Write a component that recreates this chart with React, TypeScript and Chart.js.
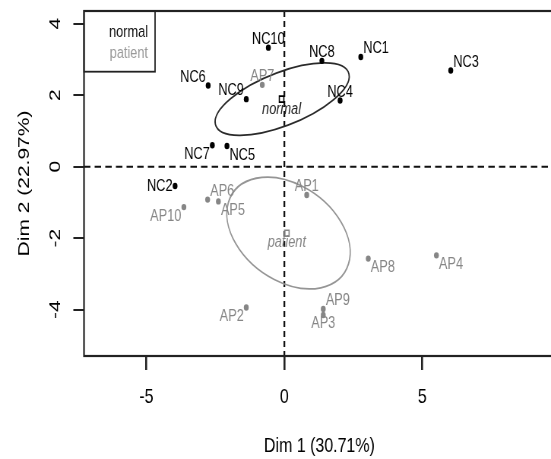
import React, { useEffect, useRef } from 'react';
import { Chart, registerables } from 'chart.js';

Chart.register(...registerables);

// ---------------- data ----------------
const groupNames = ['normal', 'patient'];

const normalLabels = ['NC1', 'NC2', 'NC3', 'NC4', 'NC5', 'NC6', 'NC7', 'NC8', 'NC9', 'NC10'];
const normalDim1 = [2.77, -3.96, 6.03, 2.02, -2.08, -2.76, -2.61, 1.36, -1.38, -0.58];
const normalDim2 = [3.07, -0.54, 2.69, 1.85, 0.58, 2.27, 0.6, 2.96, 1.89, 3.33];
const normalLabelPos = ['tr', 'l', 'tr', 't', 'br', 'tl', 'bl', 't', 'tl', 't'];

const patientLabels = ['AP1', 'AP2', 'AP3', 'AP4', 'AP5', 'AP6', 'AP7', 'AP8', 'AP9', 'AP10'];
const patientDim1 = [0.81, -1.38, 1.41, 5.51, -2.39, -2.78, -0.8, 3.04, 1.41, -3.64];
const patientDim2 = [-0.79, -3.94, -4.15, -2.48, -0.97, -0.92, 2.29, -2.57, -3.98, -1.13];
const patientLabelPos = ['t', 'bl', 'b', 'br', 'br', 'tr', 't', 'br', 'tr', 'bl'];

const centroidDim1 = [-0.1, 0.09];
const centroidDim2 = [1.89, -1.86];

const ellipseCenterDim1 = [-0.08, 0.15];
const ellipseCenterDim2 = [1.89, -1.855];
const ellipseSemiMajor = [2.52, 2.34];
const ellipseSemiMinor = [0.76, 1.4];
const ellipseAngleDeg = [16.2, -21.7];

const xTicks = [-5, 0, 5];
const yTicks = [-4, -2, 0, 2, 4];
const xTitle = 'Dim 1 (30.71%)';
const yTitle = 'Dim 2 (22.97%)';

// ---------------- style ----------------
const SQUISH = 0.76;
const CANVAS_W = 740;
const CANVAS_H = 459;
const FONT = '"Liberation Sans", Arial, Helvetica, sans-serif';
const AXIS_FONT = 21;
const LABEL_FONT = 16.8;
const groupColors = ['#000000', '#868686'];
const ellipseColors = ['#2a2a2a', '#959595'];

const placement: Record<string, [number, number, CanvasTextAlign]> = {
  t: [0, -8.3, 'center'],
  b: [0, 8.5, 'center'],
  l: [-3.3, 0, 'right'],
  r: [3.3, 0, 'left'],
  tl: [-3.3, -8.5, 'right'],
  tr: [3.3, -8.5, 'left'],
  bl: [-3.3, 9, 'right'],
  br: [3.3, 9, 'left'],
};

const decorPlugin = {
  id: 'pcaDecor',
  beforeDatasetsDraw(chart: any) {
    const { ctx, chartArea: ca, scales } = chart;
    const x = scales.x;
    const y = scales.y;
    ctx.save();
    // dashed zero lines
    ctx.strokeStyle = '#111';
    ctx.lineWidth = 2;
    const x0 = x.getPixelForValue(0);
    const y0 = y.getPixelForValue(0);
    ctx.setLineDash([8.5, 5.5]);
    ctx.beginPath();
    ctx.moveTo(ca.left, y0);
    ctx.lineTo(ca.right, y0);
    ctx.stroke();
    ctx.lineWidth = 2.3;
    ctx.setLineDash([6, 4]);
    ctx.beginPath();
    ctx.moveTo(x0, ca.top);
    ctx.lineTo(x0, ca.bottom);
    ctx.stroke();
    ctx.setLineDash([]);
    // confidence ellipses
    const kx = x.getPixelForValue(1) - x.getPixelForValue(0);
    const ky = y.getPixelForValue(1) - y.getPixelForValue(0);
    for (let g = 0; g < groupNames.length; g++) {
      const cx = x.getPixelForValue(ellipseCenterDim1[g]);
      const cy = y.getPixelForValue(ellipseCenterDim2[g]);
      ctx.save();
      ctx.translate(cx, cy);
      ctx.scale(kx, ky);
      ctx.rotate((ellipseAngleDeg[g] * Math.PI) / 180);
      ctx.beginPath();
      ctx.ellipse(0, 0, ellipseSemiMajor[g], ellipseSemiMinor[g], 0, 0, Math.PI * 2);
      ctx.restore();
      ctx.strokeStyle = ellipseColors[g];
      ctx.lineWidth = 1.8;
      ctx.stroke();
    }
    ctx.restore();
  },
  afterDatasetsDraw(chart: any) {
    const { ctx, chartArea: ca, scales } = chart;
    const x = scales.x;
    const y = scales.y;
    ctx.save();
    ctx.textBaseline = 'middle';
    ctx.font = `${LABEL_FONT}px ${FONT}`;
    const groups = [
      { names: normalLabels, d1: normalDim1, d2: normalDim2, pos: normalLabelPos, color: groupColors[0] },
      { names: patientLabels, d1: patientDim1, d2: patientDim2, pos: patientLabelPos, color: groupColors[1] },
    ];
    groups.forEach((gr) => {
      ctx.fillStyle = gr.color;
      gr.names.forEach((name, i) => {
        const px = x.getPixelForValue(gr.d1[i]);
        const py = y.getPixelForValue(gr.d2[i]);
        const [dx, dy, align] = placement[gr.pos[i]];
        ctx.textAlign = align;
        ctx.fillText(name, px + dx, py + dy);
      });
    });
    // group names under centroids
    ctx.font = `italic ${LABEL_FONT}px ${FONT}`;
    ctx.textAlign = 'center';
    for (let g = 0; g < groupNames.length; g++) {
      ctx.fillStyle = g === 0 ? '#222' : groupColors[1];
      const px = x.getPixelForValue(centroidDim1[g]);
      const py = y.getPixelForValue(centroidDim2[g]);
      ctx.fillText(groupNames[g], px, py + (g === 0 ? 10.5 : 9));
    }
    // plot box
    ctx.strokeStyle = '#222';
    ctx.lineWidth = 2.2;
    ctx.strokeRect(ca.left, ca.top, ca.right - ca.left, ca.bottom - ca.top);
    // legend box
    const lw = 93.5;
    const lh = 60.7;
    ctx.lineWidth = 1.8;
    ctx.strokeRect(ca.left, ca.top, lw, lh);
    ctx.font = `${LABEL_FONT}px ${FONT}`;
    ctx.textAlign = 'right';
    groupNames.forEach((n, g) => {
      ctx.fillStyle = g === 0 ? '#111' : '#999';
      ctx.fillText(n, ca.left + lw - 9.3, ca.top + 21.7 + g * 20.6);
    });
    ctx.restore();
  },
};

function zeroPad(s: any) {
  s.paddingLeft = 0;
  s.paddingRight = 0;
  s.paddingTop = 0;
  s.paddingBottom = 0;
}

export default function App() {
  const ref = useRef<HTMLCanvasElement>(null);
  useEffect(() => {
    if (!ref.current) return;
    Chart.defaults.font.family = FONT;
    const chart = new Chart(ref.current, {
      type: 'scatter',
      data: {
        datasets: [
          {
            label: groupNames[0],
            data: normalDim1.map((v, i) => ({ x: v, y: normalDim2[i] })),
            backgroundColor: groupColors[0],
            borderWidth: 0,
            pointRadius: 3.2,
          },
          {
            label: groupNames[1],
            data: patientDim1.map((v, i) => ({ x: v, y: patientDim2[i] })),
            backgroundColor: groupColors[1],
            borderWidth: 0,
            pointRadius: 3.2,
          },
          {
            label: 'centroids',
            data: centroidDim1.map((v, i) => ({ x: v, y: centroidDim2[i] })),
            pointStyle: 'rect',
            pointRadius: 4.2,
            backgroundColor: 'rgba(0,0,0,0)',
            borderColor: groupColors,
            borderWidth: 1.6,
          },
        ],
      },
      options: {
        animation: false,
        responsive: false,
        events: [],
        layout: { padding: { left: 0, right: 10, top: 11, bottom: 0 } },
        plugins: { legend: { display: false }, tooltip: { enabled: false } },
        scales: {
          x: {
            type: 'linear',
            min: -7.26,
            max: 9.8,
            afterBuildTicks: (s: any) => {
              s.ticks = xTicks.map((v) => ({ value: v }));
            },
            afterFit: (s: any) => {
              s.height = 103;
              zeroPad(s);
            },
            grid: { drawOnChartArea: false, drawTicks: true, tickLength: 14, color: '#222', lineWidth: 2.6 },
            border: { display: false },
            ticks: { padding: 14.4, color: '#000', font: { size: AXIS_FONT }, maxRotation: 0, autoSkip: false },
            title: { display: true, text: xTitle, color: '#000', font: { size: AXIS_FONT }, padding: { top: 0, bottom: 0 } },
          },
          y: {
            type: 'linear',
            min: -5.295,
            max: 4.355,
            afterBuildTicks: (s: any) => {
              s.ticks = yTicks.map((v) => ({ value: v }));
            },
            afterFit: (s: any) => {
              s.width = 110.5;
              zeroPad(s);
            },
            grid: { drawOnChartArea: false, drawTicks: true, tickLength: 14, color: '#222', lineWidth: 2 },
            border: { display: false },
            ticks: {
              padding: 13.8,
              color: '#000',
              font: { size: AXIS_FONT },
              minRotation: 90,
              maxRotation: 90,
              crossAlign: 'center',
              autoSkip: false,
            },
            title: { display: true, text: yTitle, color: '#000', font: { size: AXIS_FONT }, padding: { top: 20, bottom: 0 } },
          },
        },
      } as any,
      plugins: [decorPlugin],
    });
    return () => chart.destroy();
  }, []);

  return (
    <div style={{ position: 'fixed', left: 0, top: 0, width: 551, height: 459, overflow: 'hidden', background: '#fff' }}>
      <div style={{ width: CANVAS_W, height: CANVAS_H, transform: `scaleX(${SQUISH})`, transformOrigin: '0 0' }}>
        <canvas ref={ref} width={CANVAS_W} height={CANVAS_H} style={{ display: 'block' }} />
      </div>
    </div>
  );
}
